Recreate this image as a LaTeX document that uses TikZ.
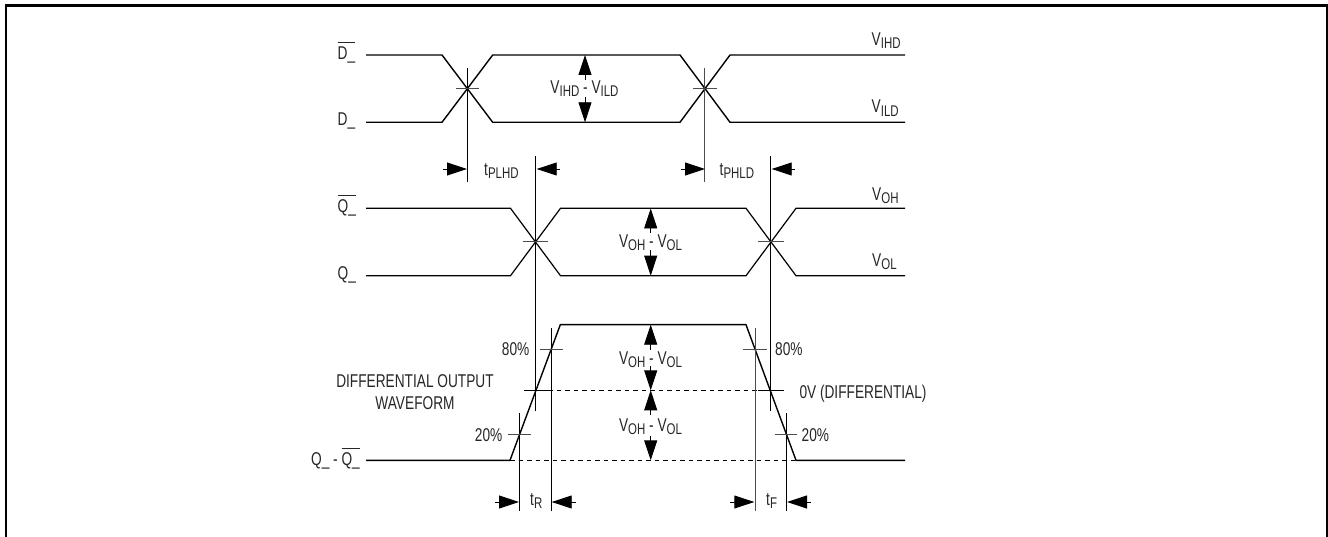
\documentclass[tikz,border=0pt]{standalone}
\usepackage{fontspec}
\usetikzlibrary{arrows.meta}
\setmainfont[FakeStretch=0.74]{Liberation Sans}
\newcommand{\sbt}[1]{\raisebox{-3.2pt}{\fontsize{15.5}{16}\selectfont #1}}
\newcommand{\ol}[1]{\setbox0\hbox{#1}\rlap{\rule[16.3pt]{\wd0}{0.9pt}}#1}
\tikzset{
  x=1pt,y=-1pt,
  wave/.style={line width=1.4pt,line join=miter},
  waveb/.style={line width=1.2pt,line join=miter},
  thin line/.style={line width=0.8pt},
  tickline/.style={line width=0.7pt,black!70},
  dash line/.style={line width=0.7pt,dash pattern=on 4.5pt off 4pt},
  dim/.style={line width=0.9pt,{Triangle[length=20pt,width=13pt]}-},
  lab/.style={inner sep=0pt,font=\fontsize{18.5}{20}\selectfont,text=black!85},
}
\begin{document}
\begin{tikzpicture}
\useasboundingbox (0,0) rectangle (1328,537);
\draw[line width=2.2pt] (6,538) -- (6,5.5) -- (1327,5.5) -- (1327,538);
% D waveforms
\draw[wave] (366,55) -- (442,55) -- (492.7,122.3) -- (680,122.3) -- (730,55) -- (905,55);
\draw[wave] (366,122.3) -- (442,122.3) -- (492.7,55) -- (680,55) -- (730,122.3) -- (905,122.3);
% Q waveforms
\draw[waveb] (366,208.3) -- (510.5,208.3) -- (560.5,275.7) -- (746,275.7) -- (796,208.3) -- (905,208.3);
\draw[waveb] (366,275.7) -- (510.5,275.7) -- (560.5,208.3) -- (746,208.3) -- (796,275.7) -- (905,275.7);
% differential
\draw[wave] (366,460.3) -- (510,460.3) -- (560.3,324.7) -- (746,324.7) -- (796,460.3) -- (905,460.3);
\draw[dash line] (510,460.3) -- (796,460.3);
\draw[dash line] (548,390.3) -- (758,390.3);
% verticals
\draw[thin line] (467.5,68) -- (467.5,181.7);
\draw[tickline] (704.7,68) -- (704.7,181.7);
\draw[thin line] (535.7,155.7) -- (535.7,411);
\draw[thin line] (770.7,155.7) -- (770.7,411);
\draw[thin line] (551,328.3) -- (551,511.3);
\draw[tickline] (755,328.3) -- (755,511.3);
\draw[thin line] (519.7,413.3) -- (519.7,511.3);
\draw[thin line] (786.3,413.3) -- (786.3,511.3);
% ticks
\draw[tickline] (455.7,88.7) -- (479,88.7);
\draw[tickline] (693,88.7) -- (716.7,88.7);
\draw[tickline] (523,241.7) -- (548,241.7);
\draw[tickline] (758,241.7) -- (784,241.7);
\draw[tickline] (540,349) -- (562.7,349);
\draw[tickline] (743.3,349) -- (766.7,349);
\draw[thin line] (524,390.3) -- (548,390.3);
\draw[thin line] (758,390.3) -- (784,390.3);
\draw[tickline] (508.3,434) -- (531,434);
\draw[tickline] (774.7,434) -- (797.3,434);
% vertical dimension arrows
\draw[dim] (585,55) -- (585,80);
\draw[dim] (585,122.3) -- (585,97);
\draw[dim] (650.7,208.5) -- (650.7,233);
\draw[dim] (650.7,275.7) -- (650.7,250);
\draw[dim] (650.7,324.7) -- (650.7,350);
\draw[dim] (650.7,390.3) -- (650.7,366);
\draw[dim] (650.7,390.3) -- (650.7,415);
\draw[dim] (650.7,460.3) -- (650.7,436);
% horizontal dimension arrows
\draw[dim] (467,169) -- (442.7,169);
\draw[dim] (536.7,169) -- (560,169);
\draw[dim] (705,169) -- (681,169);
\draw[dim] (771.7,169) -- (795,169);
\draw[dim] (519,502) -- (495,502);
\draw[dim] (551.7,502) -- (576,502);
\draw[dim] (754.3,502) -- (730,502);
\draw[dim] (787,502) -- (811,502);
% labels
\node[lab,anchor=base west] (dbar) at (337.5,59.3) {\ol{D\_}};
\node[lab,anchor=base west] (d) at (337.5,126) {D\_};
\node[lab,anchor=base west] (qbar) at (337.5,212.5) {\ol{Q\_}};
\node[lab,anchor=base west] (q) at (337.5,280) {Q\_};
\node[lab,anchor=base east] (diff) at (360,465) {Q\_ - \ol{Q\_}};
\node[lab,anchor=base] (vd) at (584.5,93.3) {V\sbt{IHD} - V\sbt{ILD}};
\node[lab,anchor=base] (vq) at (650.5,247.3) {V\sbt{OH} - V\sbt{OL}};
\node[lab,anchor=base] (vu) at (650.5,364.5) {V\sbt{OH} - V\sbt{OL}};
\node[lab,anchor=base] (vl) at (650.5,431) {V\sbt{OH} - V\sbt{OL}};
\node[lab,anchor=base west] (vihd) at (871.5,45.3) {V\sbt{IHD}};
\node[lab,anchor=base west] (vild) at (871.5,113) {V\sbt{ILD}};
\node[lab,anchor=base west] (voh) at (872,200.5) {V\sbt{OH}};
\node[lab,anchor=base west] (vol) at (872,266.7) {V\sbt{OL}};
\node[lab,anchor=base west] (tplhd) at (484,175.7) {t\sbt{PLHD}};
\node[lab,anchor=base west] (tphld) at (719.5,175.7) {t\sbt{PHLD}};
\node[lab,anchor=base west] (tr) at (530,505.5) {t\sbt{R}};
\node[lab,anchor=base west] (tf) at (766,505.5) {t\sbt{F}};
\node[lab,anchor=base east] (p80l) at (529.5,355.7) {80\%};
\node[lab,anchor=base west] (p80r) at (775,355.2) {80\%};
\node[lab,anchor=base east] (p20l) at (502.5,441.7) {20\%};
\node[lab,anchor=base west] (p20r) at (801.5,441.7) {20\%};
\node[lab,anchor=base west] (zero) at (799.3,398.3) {0V (DIFFERENTIAL)};
\node[lab,anchor=base] (dow) at (415,387.3) {DIFFERENTIAL OUTPUT};
\node[lab,anchor=base] (wf) at (415,409) {WAVEFORM};
\end{tikzpicture}
\end{document}
